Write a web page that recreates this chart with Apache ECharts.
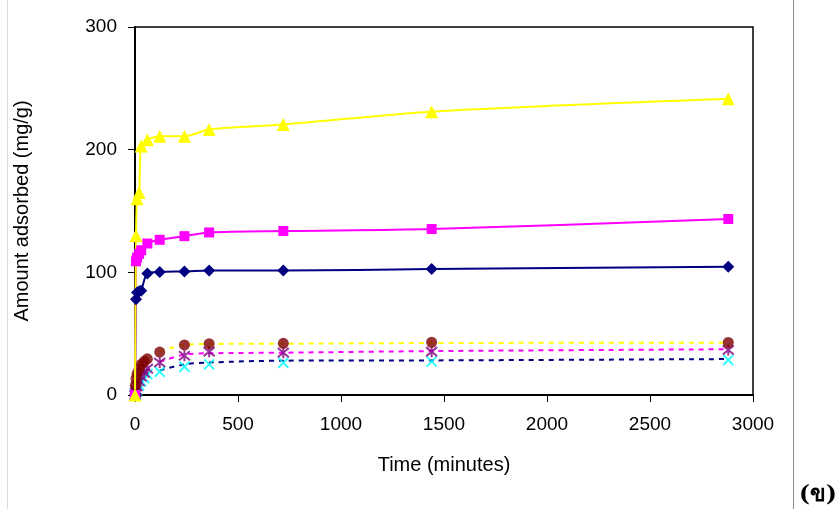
<!DOCTYPE html>
<html>
<head>
<meta charset="utf-8">
<style>
  html, body { margin: 0; padding: 0; background: #fff; }
  #chart { width: 838px; height: 509px; }
</style>
<script src="https://cdn.jsdelivr.net/npm/echarts@6/dist/echarts.min.js"></script>
</head>
<body>
<div id="chart"></div>
<script>
// Sampling times (minutes) for the high-uptake runs (solid lines)
const timesHigh = [0, 5, 10, 20, 30, 60, 120, 240, 360, 720, 1440, 2880];
const yellowTri  = [0, 130, 160, 165, 203, 208, 211, 211, 216.5, 220.5, 231, 241.5];
const magentaSq  = [0, 109, 112, 115, 118, 123.5, 126.5, 129.5, 132.5, 133.7, 135.3, 143.5];
const navyDia    = [0, 78, 83.5, 84.5, 85, 99, 100.3, 100.7, 101.5, 101.5, 102.7, 104.6];

// Sampling times (minutes) for the low-uptake runs (markers only)
const timesLow = [0, 2, 5, 10, 20, 30, 45, 60, 120, 240, 360, 720, 1440, 2880];
const maroonCirc = [0, 8, 13.5, 17.5, 21.5, 25, 27.5, 29.5, 35, 40.8, 41.8, 42.1, 43, 42.8];
const purpleStar = [0, 2, 4, 7, 11, 15, 18, 21.5, 26.5, 32, 35.3, 34.5, 35.3, 36.7];
const cyanCross  = [0, 1, 2.5, 4, 8, 11, 13.6, 17, 19, 23, 25, 26.3, 27.2, 28.5];

// Dashed curves drawn alongside the low-uptake runs
const timesCurve = [120, 240, 360, 720, 1440, 2880];
const curveYellow  = [35.5, 41, 41.6, 41.8, 42.4, 42.6];
const curveMagenta = [27, 33, 34, 34.5, 35.8, 37.3];
const curveNavy    = [20, 25, 26.5, 28, 28.2, 29.3];

// Axis ticks
const xTicks = [0, 500, 1000, 1500, 2000, 2500, 3000];
const yTicks = [0, 100, 200, 300];

const pair = (xs, ys) => xs.map((x, i) => [x, ys[i]]);

const FONT = 'Liberation Sans, Arial, sans-serif';
const crossPath = 'path://M0,0L10,10M10,0L0,10';
const starPath = 'path://M0,0L10,10M10,0L0,10M5,-1L5,11';

const solid = (name, xs, ys, color, symbol, size) => ({
  name, type: 'line', data: pair(xs, ys), smooth: 0.3,
  lineStyle: { color, width: 2 }, itemStyle: { color },
  symbol, symbolSize: size, showSymbol: true, z: 5, animation: false
});
const dashed = (name, xs, ys, color) => ({
  name, type: 'line', data: pair(xs, ys), smooth: 0.3, showSymbol: false, symbol: 'none',
  lineStyle: { color, width: 2, type: [5, 5] }, z: 2, animation: false
});
const points = (name, xs, ys, color, symbol, size, stroked) => ({
  name, type: 'scatter', data: pair(xs, ys), symbol, symbolSize: size, z: 3, animation: false,
  itemStyle: stroked ? { color: 'rgba(0,0,0,0)', borderColor: color, borderWidth: 2 } : { color }
});

const chart = echarts.init(document.getElementById('chart'), null, { renderer: 'canvas' });
chart.setOption({
  backgroundColor: '#ffffff',
  animation: false,
  grid: { left: 135, right: 85, top: 27, bottom: 114, show: true, borderColor: '#000', borderWidth: 1.5, backgroundColor: 'transparent' },
  xAxis: {
    type: 'value', min: xTicks[0], max: xTicks[xTicks.length - 1], interval: 500,
    name: 'Time (minutes)', nameLocation: 'middle', nameGap: 60,
    nameTextStyle: { fontFamily: FONT, fontSize: 20, color: '#000' },
    axisLine: { lineStyle: { color: '#000', width: 2 } },
    axisTick: { show: true, inside: false, length: 7, lineStyle: { color: '#000', width: 1 } },
    axisLabel: { fontFamily: FONT, fontSize: 19, color: '#000', margin: 20, formatter: v => String(v) },
    splitLine: { show: false }
  },
  yAxis: {
    type: 'value', min: yTicks[0], max: yTicks[yTicks.length - 1], interval: 100,
    name: 'Amount adsorbed (mg/g)', nameLocation: 'middle', nameGap: 103, nameRotate: 90,
    nameTextStyle: { fontFamily: FONT, fontSize: 20, color: '#000' },
    axisLine: { show: true, lineStyle: { color: '#000', width: 2 } },
    axisTick: { show: true, inside: false, length: 7, lineStyle: { color: '#000', width: 1 } },
    axisLabel: { fontFamily: FONT, fontSize: 19, color: '#000', margin: 18, formatter: v => String(v) },
    splitLine: { show: false }
  },
  graphic: [
    { type: 'line', shape: { x1: 7.5, y1: 0, x2: 7.5, y2: 509 }, style: { stroke: '#dcdcdc', lineWidth: 1 } },
    { type: 'line', shape: { x1: 793.5, y1: 0, x2: 793.5, y2: 509 }, style: { stroke: '#8c8c8c', lineWidth: 1 } },
    { type: 'text', left: 799, top: 484, style: { text: '(ข)', font: 'bold 23px "DejaVu Serif", "Liberation Serif", "Noto Sans", serif', fill: '#000' } }
  ],
  series: [
    dashed('fit-a', timesCurve, curveYellow, '#ffff00'),
    dashed('fit-b', timesCurve, curveMagenta, '#ff00ff'),
    dashed('fit-c', timesCurve, curveNavy, '#000080'),
    points('run-4', timesLow, cyanCross, '#00ffff', crossPath, 10, true),
    points('run-5', timesLow, purpleStar, '#800080', starPath, 11, true),
    points('run-6', timesLow, maroonCirc, '#800000', 'circle', 11, false),
    solid('run-1', timesHigh, navyDia, '#000080', 'diamond', 12),
    solid('run-2', timesHigh, magentaSq, '#ff00ff', 'rect', 10),
    solid('run-3', timesHigh, yellowTri, '#ffff00', 'triangle', 13)
  ]
});
</script>
</body>
</html>
